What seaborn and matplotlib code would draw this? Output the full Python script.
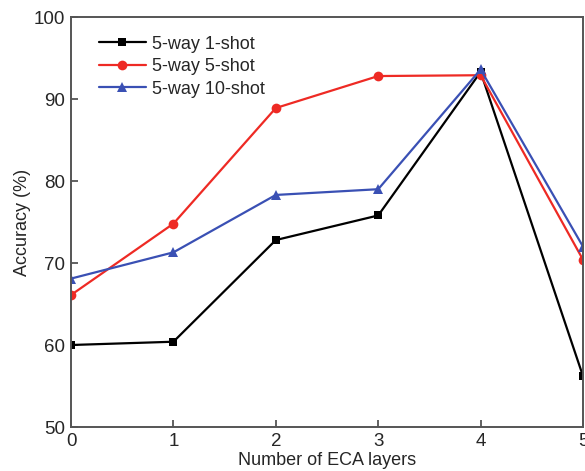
import matplotlib
matplotlib.use("Agg")
import matplotlib.pyplot as plt
import seaborn as sns
import pandas as pd

layers = [0, 1, 2, 3, 4, 5]
shot1 = [60.0, 60.4, 72.8, 75.8, 93.3, 56.2]
shot5 = [66.1, 74.8, 88.9, 92.8, 92.9, 70.4]
shot10 = [68.1, 71.3, 78.3, 79.0, 93.6, 72.0]
series_names = ["5-way 1-shot", "5-way 5-shot", "5-way 10-shot"]
x_label = "Number of ECA layers"
y_label = "Accuracy (%)"

sns.set_theme(style="ticks")
plt.rcParams['font.family'] = ['Liberation Sans', 'DejaVu Sans']

df = pd.DataFrame({
    "layers": layers * 3,
    "acc": shot1 + shot5 + shot10,
    "series": [series_names[0]] * 6 + [series_names[1]] * 6 + [series_names[2]] * 6,
})

fig = plt.figure(figsize=(5.85, 4.71), dpi=100)
ax = fig.add_axes([0.1214, 0.0934, 0.8752, 0.8705])

colors = {series_names[0]: "#000000", series_names[1]: "#ee2a24", series_names[2]: "#3a50b4"}
markers = {series_names[0]: "s", series_names[1]: "o", series_names[2]: "^"}
sizes = {series_names[0]: 6, series_names[1]: 7, series_names[2]: 7}

for name in series_names:
    sub = df[df["series"] == name]
    sns.lineplot(data=sub, x="layers", y="acc", ax=ax, color=colors[name],
                 marker=markers[name], markersize=sizes[name], markeredgewidth=0,
                 linewidth=1.6, label=name)

ax.set_xlim(0, 5)
ax.set_ylim(50, 100)
ax.set_xticks([0, 1, 2, 3, 4, 5])
ax.set_yticks([50, 60, 70, 80, 90, 100])
ax.tick_params(direction="in", length=5, width=1.3, color="#555555",
               labelsize=13.5, pad=4, top=False, right=False)
for s in ax.spines.values():
    s.set_color("#555555")
    s.set_linewidth(1.4)
ax.set_xlabel(x_label, fontsize=13, labelpad=2)
ax.set_ylabel(y_label, fontsize=13, labelpad=2)

leg = ax.legend(loc="upper left", frameon=False, fontsize=13,
                bbox_to_anchor=(0.03, 0.985), handlelength=2.6,
                handletextpad=0.35, labelspacing=0.3, borderaxespad=0.3)

fig.savefig("out.png", dpi=100)
